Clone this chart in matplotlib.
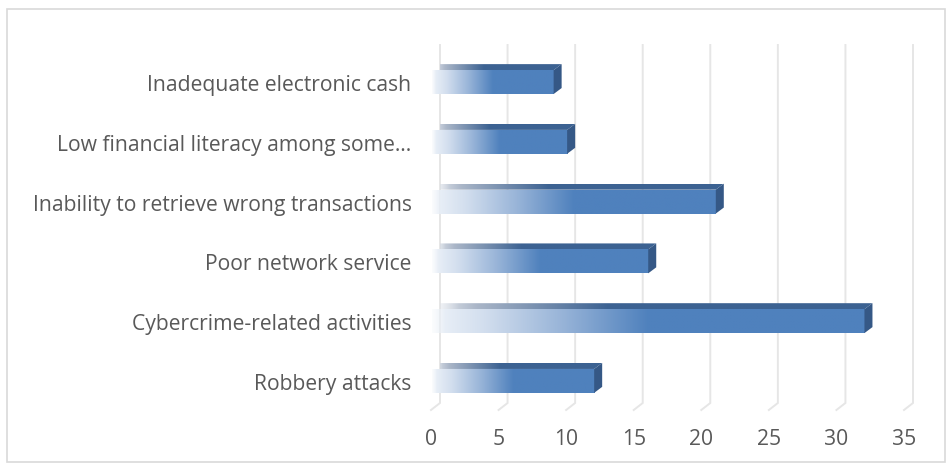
import numpy as np
import matplotlib
matplotlib.use('Agg')
import matplotlib.pyplot as plt
from matplotlib.patches import Polygon, Rectangle

plt.rcParams['font.family'] = ['Open Sans', 'DejaVu Sans']

# data (bottom to top)
categories = ['Robbery attacks', 'Cybercrime-related activities', 'Poor network service',
              'Inability to retrieve wrong transactions', 'Low financial literacy among some…',
              'Inadequate electronic cash']
values = [12, 32, 16, 21, 10, 9]
xticks = [0, 5, 10, 15, 20, 25, 30, 35]

W, H = 952, 470
fig = plt.figure(figsize=(W / 100, H / 100), dpi=100)

# back plane axes (gridlines + bars) and front plane axes (labels only)
ax = fig.add_axes([440 / W, 67 / H, 473 / W, 358 / H])
ax2 = fig.add_axes([431 / W, 60 / H, 473 / W, 358 / H])
ylim = (-0.47, 5.52)
for a in (ax, ax2):
    a.set_xlim(0, 35)
    a.set_ylim(*ylim)
    for s in a.spines.values():
        s.set_visible(False)
    a.patch.set_visible(False)
ax.set_xticks([])
ax.set_yticks([])
ax2.set_xticks(xticks)
ax2.set_yticks(range(len(categories)))
ax2.set_yticklabels(categories)
ax2.tick_params(axis='x', length=0, pad=14, labelsize=15.2, labelcolor='#595959')
ax2.tick_params(axis='y', length=0, pad=14, labelsize=15.2, labelcolor='#595959')
ax2.set_zorder(0)
ax.set_zorder(1)

# depth offsets in data units
px_x = ax.transData.transform((1, 0))[0] - ax.transData.transform((0, 0))[0]
px_y = ax.transData.transform((0, 1))[1] - ax.transData.transform((0, 0))[1]
ddx, ddy = 8 / px_x, 6 / px_y
gdx, gdy = 9 / px_x, 7 / px_y

# gridlines with slanted floor edge
for x in xticks:
    ax.plot([x, x, x - gdx], [ylim[1], ylim[0], ylim[0] - gdy], color='#e6e6e6',
            lw=1.4, clip_on=False, zorder=1, solid_joinstyle='miter')


def grad(stops, cols, n=300, fade=0.03):
    t = np.linspace(0, 1, n)
    rgba = np.ones((1, n, 4))
    cols = np.array(cols) / 255
    for k in range(3):
        rgba[0, :, k] = np.interp(t, stops, cols[:, k])
    rgba[0, :, 3] = np.interp(t, [0, fade, 1], [0.25, 1, 1])
    return rgba


front_cols = [(238, 243, 249), (210, 222, 238), (152, 180, 216), (79, 129, 189), (79, 129, 189)]
front_stops = [0, 0.12, 0.3, 0.5, 1]
top_cols = [(232, 235, 240), (170, 182, 200), (60, 98, 146), (60, 98, 146)]
top_stops = [0, 0.1, 0.4, 1]
side_col = '#355886'

h = 0.40
for i, v in enumerate(values):
    y0, y1 = i - h / 2, i + h / 2
    # front face
    im = ax.imshow(grad(front_stops, front_cols), extent=(-ddx, v - ddx, y0 - ddy, y1 - ddy),
                   aspect='auto', interpolation='bilinear', zorder=3)
    im.set_clip_on(False)
    # top face
    top = Polygon([(-ddx, y1 - ddy), (v - ddx, y1 - ddy), (v, y1), (0, y1)], closed=True,
                  facecolor='none', edgecolor='none')
    ax.add_patch(top)
    im2 = ax.imshow(grad(top_stops, top_cols, fade=0.06), extent=(-ddx, v, y1 - ddy, y1),
                    aspect='auto', interpolation='bilinear', zorder=3)
    im2.set_clip_path(top)
    im2.set_clip_box(None)
    # side face
    ax.add_patch(Polygon([(v - ddx, y0 - ddy), (v, y0), (v, y1), (v - ddx, y1 - ddy)],
                         closed=True, facecolor=side_col, edgecolor='none', zorder=3,
                         clip_on=False))

ax.set_xlim(0, 35)
ax.set_ylim(*ylim)

# chart border
fig.add_artist(Rectangle((6.5 / W, 8.5 / H), 938 / W, 453 / H, transform=fig.transFigure,
                         fill=False, edgecolor='#d9d9d9', lw=1.2))

fig.savefig('out.png', dpi=100)
